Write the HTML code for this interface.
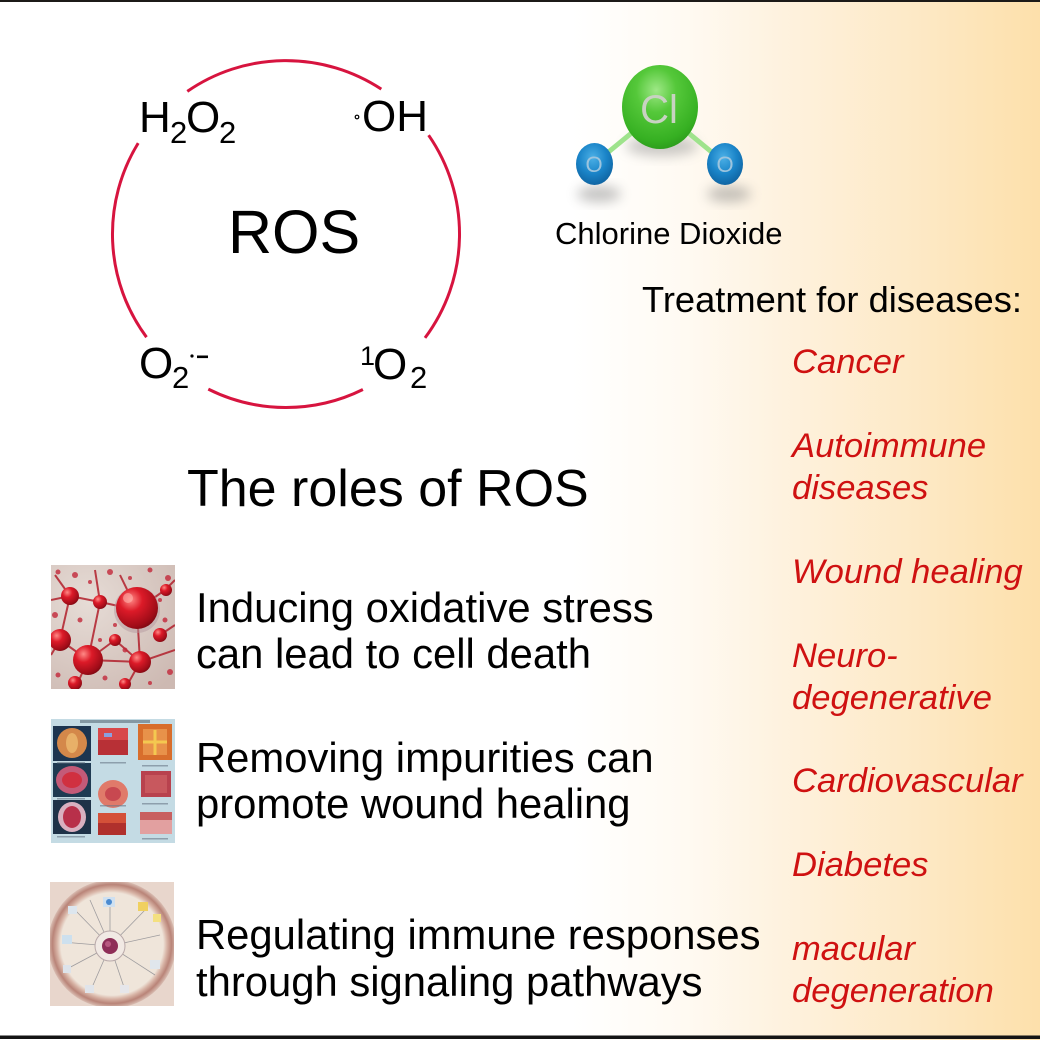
<!DOCTYPE html>
<html>
<head>
<meta charset="utf-8">
<style>
  html,body{margin:0;padding:0;background:#fff;}
  body{width:1040px;height:1040px;overflow:hidden;}
  svg{display:block;}
  text{font-family:"Liberation Sans", Arial, Helvetica, sans-serif;}
</style>
</head>
<body>
<svg width="1040" height="1040" viewBox="0 0 1040 1040" xmlns="http://www.w3.org/2000/svg">
  <defs>
    <linearGradient id="bg" x1="0" y1="0" x2="1040" y2="0" gradientUnits="userSpaceOnUse">
      <stop offset="0" stop-color="#ffffff"/>
      <stop offset="0.55" stop-color="#ffffff"/>
      <stop offset="0.66" stop-color="#fffaf2"/>
      <stop offset="0.75" stop-color="#fef2df"/>
      <stop offset="0.88" stop-color="#fde9c6"/>
      <stop offset="1" stop-color="#fde0ab"/>
    </linearGradient>
    <radialGradient id="gcl" cx="0.45" cy="0.3" r="0.75">
      <stop offset="0" stop-color="#9ee886"/>
      <stop offset="0.35" stop-color="#55c83a"/>
      <stop offset="0.8" stop-color="#36b022"/>
      <stop offset="1" stop-color="#2a961a"/>
    </radialGradient>
    <radialGradient id="go" cx="0.45" cy="0.35" r="0.75">
      <stop offset="0" stop-color="#4cb0e6"/>
      <stop offset="0.5" stop-color="#1a84c8"/>
      <stop offset="1" stop-color="#0c5a96"/>
    </radialGradient>
    <radialGradient id="rs" cx="0.35" cy="0.3" r="0.8">
      <stop offset="0" stop-color="#ff8a86"/>
      <stop offset="0.35" stop-color="#dc1a28"/>
      <stop offset="0.8" stop-color="#a00c18"/>
      <stop offset="1" stop-color="#6e0810"/>
    </radialGradient>
    <radialGradient id="img1bg" cx="0.3" cy="0.3" r="0.9">
      <stop offset="0" stop-color="#e6dcd6"/>
      <stop offset="1" stop-color="#cdb9b2"/>
    </radialGradient>
    <radialGradient id="ring3" cx="0.5" cy="0.5" r="0.5">
      <stop offset="0.8" stop-color="#efe5da"/>
      <stop offset="0.86" stop-color="#d8b4a6"/>
      <stop offset="0.93" stop-color="#b98478"/>
      <stop offset="1" stop-color="#d9bdb2"/>
    </radialGradient>
    <filter id="blur" x="-50%" y="-50%" width="200%" height="200%">
      <feGaussianBlur stdDeviation="6"/>
    </filter>
    <clipPath id="c1"><rect x="51" y="565" width="124" height="124"/></clipPath>
    <clipPath id="c2"><rect x="51" y="719" width="124" height="124"/></clipPath>
    <clipPath id="c3"><rect x="50" y="882" width="124" height="124"/></clipPath>
  </defs>

  <!-- background -->
  <rect x="0" y="0" width="1040" height="1040" fill="url(#bg)"/>
  <rect x="0" y="0" width="1040" height="2" fill="#1c1a18"/>
  <rect x="0" y="1035.5" width="1040" height="3.5" fill="#141414"/>

  <!-- ROS circle arcs -->
  <g fill="none" stroke="#d7143f" stroke-width="3">
    <path d="M187.3,91.4 A173.5,173.5 0 0 1 381.3,89.1"/>
    <path d="M428.6,135.2 A173.5,173.5 0 0 1 425,337.9"/>
    <path d="M362.9,389.5 A173.5,173.5 0 0 1 208.3,389.1"/>
    <path d="M146.5,337.2 A173.5,173.5 0 0 1 138.2,143.1"/>
  </g>

  <!-- ROS labels -->
  <g fill="#000">
    <text x="228" y="253" font-size="61">ROS</text>
    <!-- H2O2 -->
    <text x="139" y="132" font-size="44">H</text>
    <text x="170" y="143" font-size="31">2</text>
    <text x="186" y="132" font-size="44">O</text>
    <text x="219" y="143" font-size="31">2</text>
    <!-- ·OH -->
    <circle cx="357" cy="117" r="1.8" fill="none" stroke="#000" stroke-width="1.2"/>
    <text x="362" y="131" font-size="44">OH</text>
    <!-- O2·- -->
    <text x="139" y="378" font-size="44">O</text>
    <text x="172" y="388" font-size="31">2</text>
    <circle cx="192" cy="356" r="1.6"/>
    <rect x="197" y="355.5" width="11" height="2.6"/>
    <!-- 1O2 -->
    <text x="360" y="365" font-size="27">1</text>
    <text x="373" y="379" font-size="44">O</text>
    <text x="410" y="388" font-size="31">2</text>
  </g>

  <!-- Chlorine dioxide molecule -->
  <g>
    <ellipse cx="662" cy="146" rx="36" ry="10" fill="#7a7a7a" opacity="0.4" filter="url(#blur)"/>
    <ellipse cx="599" cy="194" rx="22" ry="8" fill="#7a7a7a" opacity="0.45" filter="url(#blur)"/>
    <ellipse cx="729" cy="194" rx="22" ry="8" fill="#7a7a7a" opacity="0.45" filter="url(#blur)"/>
    <line x1="606" y1="154" x2="634" y2="131" stroke="#9ee38c" stroke-width="5"/>
    <line x1="686" y1="131" x2="714" y2="154" stroke="#9ee38c" stroke-width="5"/>
    <ellipse cx="660" cy="107" rx="38" ry="42" fill="url(#gcl)"/>
    <text x="659" y="123" font-size="40" fill="#c8d2c2" text-anchor="middle">Cl</text>
    <ellipse cx="594.5" cy="164" rx="18.5" ry="21" fill="url(#go)"/>
    <ellipse cx="725" cy="164" rx="18" ry="21" fill="url(#go)"/>
    <text x="594" y="172" font-size="22" fill="#9cc4de" text-anchor="middle">O</text>
    <text x="725" y="172" font-size="22" fill="#9cc4de" text-anchor="middle">O</text>
  </g>

  <text x="555" y="244" font-size="31" fill="#000">Chlorine Dioxide</text>
  <text x="642" y="312" font-size="36.3" fill="#000">Treatment for diseases:</text>

  <!-- disease list -->
  <g fill="#cf1111" font-size="34.6" font-style="italic">
    <text x="792" y="373">Cancer</text>
    <text x="792" y="457">Autoimmune</text>
    <text x="792" y="499">diseases</text>
    <text x="792" y="583">Wound healing</text>
    <text x="792" y="667">Neuro-</text>
    <text x="792" y="709">degenerative</text>
    <text x="792" y="792">Cardiovascular</text>
    <text x="792" y="876">Diabetes</text>
    <text x="792" y="960">macular</text>
    <text x="792" y="1002">degeneration</text>
  </g>

  <text x="187" y="506" font-size="52" fill="#000">The roles of ROS</text>

  <!-- roles text -->
  <g fill="#000" font-size="41.8">
    <text x="196" y="622">Inducing oxidative stress</text>
    <text x="196" y="668">can lead to cell death</text>
    <text x="196" y="772">Removing impurities can</text>
    <text x="196" y="818">promote wound healing</text>
    <text x="196" y="949">Regulating immune responses</text>
    <text x="196" y="996">through signaling pathways</text>
  </g>

  <!-- Image 1: red cells -->
  <g clip-path="url(#c1)">
    <rect x="51" y="565" width="124" height="124" fill="url(#img1bg)"/>
    <g stroke="#b2202c" stroke-width="2" fill="none" opacity="0.85">
      <path d="M51,600 L70,596 L100,602 L137,610"/>
      <path d="M60,640 L88,660 L140,662 L175,650"/>
      <path d="M70,596 L60,640"/>
      <path d="M100,602 L88,660"/>
      <path d="M137,610 L140,662"/>
      <path d="M88,660 L75,689"/>
      <path d="M140,662 L125,689"/>
      <path d="M160,635 L175,625"/>
      <path d="M137,610 L165,590 L175,580"/>
      <path d="M100,602 L95,570"/>
      <path d="M70,596 L55,575"/>
      <path d="M60,640 L51,655"/>
      <path d="M115,640 L88,660"/>
      <path d="M115,640 L140,662"/>
      <path d="M120,575 L137,610"/>
    </g>
    <g fill="#c3283a" opacity="0.8">
      <circle cx="58" cy="572" r="2.5"/><circle cx="75" cy="575" r="3"/><circle cx="90" cy="582" r="2"/>
      <circle cx="110" cy="572" r="3"/><circle cx="130" cy="578" r="2"/><circle cx="150" cy="570" r="2.5"/>
      <circle cx="168" cy="578" r="3"/><circle cx="55" cy="615" r="3"/><circle cx="80" cy="620" r="2.5"/>
      <circle cx="115" cy="625" r="2"/><circle cx="165" cy="620" r="2.5"/><circle cx="170" cy="672" r="3"/>
      <circle cx="105" cy="678" r="2.5"/><circle cx="58" cy="675" r="2.5"/><circle cx="150" cy="683" r="2"/>
      <circle cx="100" cy="640" r="2"/><circle cx="125" cy="650" r="2.5"/><circle cx="160" cy="600" r="2"/>
    </g>
    <circle cx="70" cy="596" r="9" fill="url(#rs)"/>
    <circle cx="100" cy="602" r="7" fill="url(#rs)"/>
    <circle cx="60" cy="640" r="11" fill="url(#rs)"/>
    <circle cx="88" cy="660" r="15" fill="url(#rs)"/>
    <circle cx="140" cy="662" r="11" fill="url(#rs)"/>
    <circle cx="160" cy="635" r="7" fill="url(#rs)"/>
    <circle cx="115" cy="640" r="6" fill="url(#rs)"/>
    <circle cx="75" cy="683" r="7" fill="url(#rs)"/>
    <circle cx="125" cy="684" r="6" fill="url(#rs)"/>
    <circle cx="166" cy="590" r="6" fill="url(#rs)"/>
    <circle cx="137" cy="610" r="23" fill="#b59aa0" opacity="0.5"/>
    <circle cx="137" cy="608" r="21" fill="url(#rs)"/>
    <circle cx="128" cy="598" r="5" fill="#ffb0aa" opacity="0.6"/>
  </g>

  <!-- Image 2: tiles panel -->
  <g clip-path="url(#c2)">
    <rect x="51" y="719" width="124" height="124" fill="#c4dbe4"/>
    <rect x="80" y="720" width="70" height="3" fill="#5a6a78" opacity="0.6"/>
    <rect x="53" y="726" width="38" height="35" fill="#1d3550"/>
    <circle cx="72" cy="743" r="15" fill="#d4884a"/>
    <ellipse cx="72" cy="743" rx="6" ry="10" fill="#e8b068"/>
    <rect x="53" y="763" width="38" height="34" fill="#1f3a52"/>
    <ellipse cx="72" cy="780" rx="16" ry="14" fill="#c45a78"/>
    <ellipse cx="72" cy="780" rx="10" ry="8" fill="#d03040"/>
    <rect x="53" y="800" width="38" height="34" fill="#1e3248"/>
    <ellipse cx="72" cy="817" rx="14" ry="15" fill="#d9b0c0"/>
    <ellipse cx="72" cy="817" rx="9" ry="11" fill="#b8304a"/>
    <rect x="98" y="728" width="30" height="27" fill="#d8484a"/>
    <rect x="98" y="740" width="30" height="15" fill="#b83036"/>
    <rect x="104" y="733" width="8" height="4" fill="#8aa0e0"/>
    <ellipse cx="113" cy="794" rx="15" ry="14" fill="#e07a6a"/>
    <ellipse cx="113" cy="794" rx="8" ry="7" fill="#c84850"/>
    <rect x="98" y="813" width="28" height="22" fill="#d45038"/>
    <rect x="98" y="823" width="28" height="12" fill="#b0302c"/>
    <rect x="138" y="724" width="34" height="36" fill="#d86e2c"/>
    <rect x="143" y="729" width="24" height="26" fill="#e8924a"/>
    <path d="M155,730 L155,755 M143,742 L167,742" stroke="#f4c850" stroke-width="3"/>
    <rect x="141" y="771" width="30" height="26" fill="#b8424e"/>
    <rect x="145" y="775" width="22" height="18" fill="#c8585e"/>
    <rect x="140" y="812" width="32" height="22" fill="#e2a0a0"/>
    <rect x="140" y="812" width="32" height="8" fill="#c86060"/>
    <g fill="#6a7888" opacity="0.6">
      <rect x="57" y="762" width="28" height="1.5"/>
      <rect x="57" y="798" width="28" height="1.5"/>
      <rect x="57" y="836" width="28" height="1.5"/>
      <rect x="100" y="762" width="26" height="1.5"/>
      <rect x="100" y="805" width="26" height="1.5"/>
      <rect x="142" y="765" width="26" height="1.5"/>
      <rect x="142" y="803" width="26" height="1.5"/>
      <rect x="142" y="838" width="26" height="1.5"/>
    </g>
  </g>

  <!-- Image 3: circular diagram -->
  <g clip-path="url(#c3)">
    <rect x="50" y="882" width="124" height="124" fill="#e8d6cc"/>
    <circle cx="112" cy="944" r="64" fill="url(#ring3)"/>
    <g stroke="#8a8a90" stroke-width="0.8" fill="none" opacity="0.8">
      <line x1="110" y1="946" x2="110" y2="900"/>
      <line x1="110" y1="946" x2="145" y2="910"/>
      <line x1="110" y1="946" x2="160" y2="935"/>
      <line x1="110" y1="946" x2="155" y2="975"/>
      <line x1="110" y1="946" x2="125" y2="990"/>
      <line x1="110" y1="946" x2="90" y2="992"/>
      <line x1="110" y1="946" x2="65" y2="970"/>
      <line x1="110" y1="946" x2="62" y2="942"/>
      <line x1="110" y1="946" x2="75" y2="910"/>
      <line x1="110" y1="946" x2="90" y2="900"/>
    </g>
    <g>
      <rect x="103" y="897" width="12" height="10" fill="#cfe0f0"/>
      <circle cx="109" cy="902" r="3" fill="#4a8ad0"/>
      <rect x="138" y="902" width="10" height="9" fill="#f0d060"/>
      <rect x="153" y="914" width="8" height="8" fill="#f4e080"/>
      <rect x="62" y="935" width="10" height="9" fill="#cde0ee"/>
      <rect x="68" y="906" width="9" height="8" fill="#dde6ee"/>
      <rect x="150" y="960" width="10" height="9" fill="#e0e6ec"/>
      <rect x="120" y="985" width="9" height="8" fill="#e6e6ea"/>
      <rect x="85" y="985" width="9" height="8" fill="#e0e4ea"/>
      <rect x="63" y="965" width="8" height="8" fill="#dde3ea"/>
    </g>
    <circle cx="110" cy="946" r="15" fill="#f1e9e4" stroke="#b8a8a8" stroke-width="1"/>
    <circle cx="110" cy="946" r="8" fill="#8e2e58"/>
    <circle cx="108" cy="944" r="3" fill="#b85880"/>
  </g>
</svg>
</body>
</html>
